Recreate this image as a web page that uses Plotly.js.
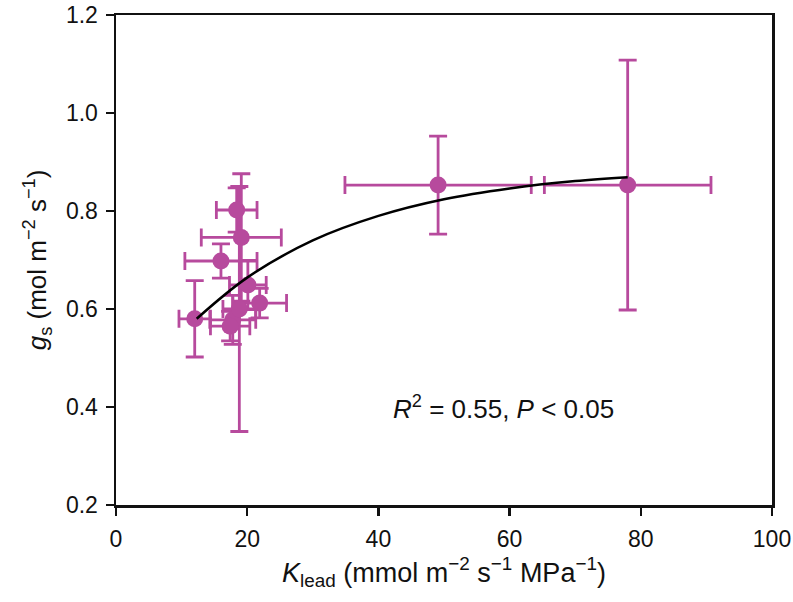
<!DOCTYPE html>
<html>
<head>
<meta charset="utf-8">
<script src="https://cdn.plot.ly/plotly-3.0.1.min.js"></script>
<style>html,body{margin:0;padding:0;background:#fff;}</style>
</head>
<body>
<div id="chart" style="width:793px;height:602px;"></div>
<script>
// Data
const kLeaf   = [12.0, 16.0, 18.4, 19.1, 20.1, 21.9, 17.8, 17.4, 18.8, 49.1, 78.0];
const gs      = [0.580, 0.698, 0.802, 0.746, 0.649, 0.612, 0.578, 0.565, 0.600, 0.853, 0.853];
const kLeafErr= [2.4, 5.5, 3.1, 6.1, 2.8, 4.1, 3.5, 3.0, 2.5, 14.2, 12.7];
const gsErr   = [0.078, 0.035, 0.045, 0.13, 0.05, 0.03, 0.05, 0.03, 0.25, 0.10, 0.255];
// Fitted curve
const fitX = [12.3, 20, 30, 40, 50, 60, 70, 78];
const fitY = [0.580, 0.664, 0.740, 0.790, 0.824, 0.846, 0.861, 0.869];

const col = '#B74A9D';
const font = 'Liberation Sans, Arial, Helvetica, sans-serif';

const traces = [
  {
    x: kLeaf, y: gs, type: 'scatter', mode: 'markers',
    marker: {color: col, size: 17},
    error_x: {type: 'data', array: kLeafErr, visible: true, color: col, thickness: 2.8, width: 9},
    error_y: {type: 'data', array: gsErr, visible: true, color: col, thickness: 2.8, width: 9},
    hoverinfo: 'x+y'
  },
  {
    x: fitX, y: fitY, type: 'scatter', mode: 'lines',
    line: {color: '#000', width: 2.5, shape: 'spline'}
  }
];

const layout = {
  width: 793, height: 602,
  margin: {l: 116, r: 21, t: 15, b: 97},
  paper_bgcolor: '#fff', plot_bgcolor: '#fff',
  showlegend: false,
  font: {family: font, size: 23, color: '#111'},
  xaxis: {
    range: [0, 100], tickvals: [0, 20, 40, 60, 80, 100],
    showgrid: false, zeroline: false,
    showline: true, linecolor: '#111', linewidth: 2.5, mirror: true,
    ticks: 'outside', ticklen: 8, tickwidth: 2.5, tickcolor: '#111',
    ticklabelstandoff: 4,
    tickfont: {size: 23, family: font, color: '#111'},
    title: {text: '<i>K</i><sub>lead</sub> (mmol m<sup>−2</sup> s<sup>−1</sup> MPa<sup>−1</sup>)',
            font: {size: 27, family: font, color: '#111'}, standoff: 12}
  },
  yaxis: {
    range: [0.2, 1.2], tickvals: [0.2, 0.4, 0.6, 0.8, 1.0, 1.2],
    ticktext: ['0.2', '0.4', '0.6', '0.8', '1.0', '1.2'],
    showgrid: false, zeroline: false,
    showline: true, linecolor: '#111', linewidth: 2.5, mirror: true,
    ticks: 'outside', ticklen: 8, tickwidth: 2.5, tickcolor: '#111',
    ticklabelstandoff: 3,
    tickfont: {size: 23, family: font, color: '#111'},
    title: {text: '<i>g</i><sub>s</sub> (mol m<sup>−2</sup> s<sup>−1</sup>)',
            font: {size: 26, family: font, color: '#111'}, standoff: 12}
  },
  annotations: [{
    x: 59, y: 0.40, xref: 'x', yref: 'y', showarrow: false,
    text: '<i>R</i><sup>2</sup> = 0.55, <i>P</i> < 0.05',
    font: {size: 26, family: font, color: '#111'}
  }]
};

Plotly.newPlot('chart', traces, layout, {displayModeBar: false, staticPlot: true});
</script>
</body>
</html>
